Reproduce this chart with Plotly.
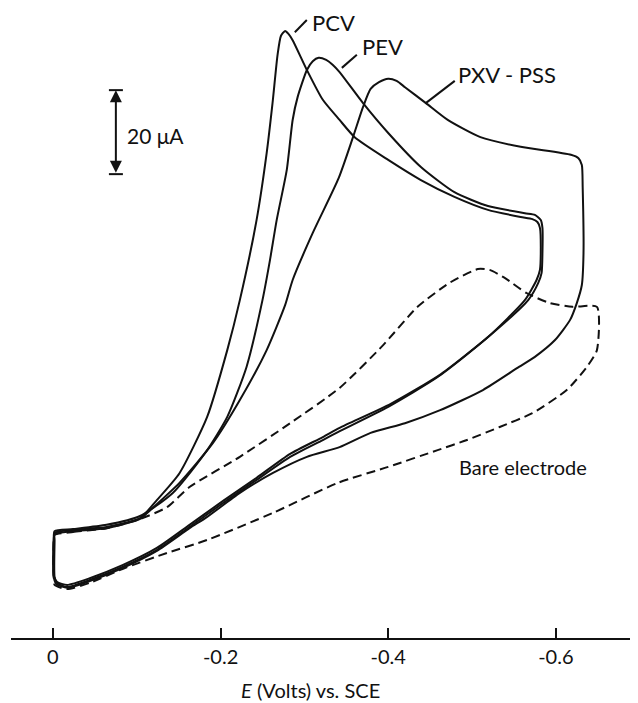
import plotly.graph_objects as go

# ---- data (E in volts vs. SCE, I in microamps, arbitrary zero) ----
pcv_E = [-0.002, -0.024, -0.064, -0.104, -0.124, -0.151, -0.184, -0.208, -0.223, -0.243,
         -0.255, -0.262, -0.268, -0.272, -0.277, -0.281, -0.286, -0.303, -0.322, -0.342,
         -0.360, -0.400, -0.439, -0.479, -0.519, -0.558, -0.572, -0.578, -0.581, -0.582,
         -0.581, -0.577, -0.563, -0.519, -0.459, -0.400, -0.340, -0.322, -0.283, -0.243,
         -0.203, -0.163, -0.124, -0.083, -0.044, -0.017, -0.005, -0.002, -0.002, -0.002]
pcv_I = [12.9, 13.6, 14.3, 16.4, 20.7, 27.1, 40.5, 56.4, 68.3, 87.4,
         103.3, 115.2, 126.7, 131.2, 132.4, 131.7, 130.2, 123.1, 116.0, 111.2,
         107.1, 101.7, 96.9, 92.9, 89.8, 88.1, 87.6, 86.9, 85.5, 79.5,
         75.5, 73.1, 68.3, 59.5, 50.0, 42.9, 36.9, 35.0, 31.0, 25.5,
         20.0, 14.3, 8.8, 4.8, 1.7, 0.0, 1.0, 2.4, 11.2, 12.9]

pev_E = [-0.002, -0.024, -0.064, -0.104, -0.143, -0.184, -0.208, -0.231, -0.250, -0.259,
         -0.267, -0.279, -0.286, -0.292, -0.303, -0.310, -0.317, -0.326, -0.334, -0.342,
         -0.370, -0.400, -0.439, -0.479, -0.519, -0.563, -0.575, -0.582, -0.584, -0.584,
         -0.583, -0.579, -0.567, -0.522, -0.463, -0.403, -0.342, -0.322, -0.283, -0.243,
         -0.203, -0.163, -0.124, -0.083, -0.044, -0.017, -0.005, -0.001, -0.001, -0.002]
pev_I = [13.3, 13.8, 14.8, 16.9, 22.4, 32.6, 40.5, 52.4, 68.3, 77.9,
         87.4, 99.3, 111.2, 116.7, 123.1, 125.2, 126.0, 125.5, 124.3, 122.6,
         115.2, 108.1, 100.0, 94.0, 90.7, 89.0, 88.6, 87.4, 85.5, 79.5,
         74.8, 72.4, 68.3, 60.0, 50.7, 43.6, 37.9, 35.7, 31.7, 26.0,
         20.5, 14.8, 9.3, 5.2, 2.1, 0.5, 1.2, 2.6, 11.2, 13.3]

pxv_E = [-0.002, -0.024, -0.064, -0.104, -0.116, -0.151, -0.191, -0.223, -0.255, -0.277,
         -0.286, -0.310, -0.341, -0.358, -0.370, -0.379, -0.389, -0.400, -0.410, -0.420,
         -0.445, -0.471, -0.510, -0.558, -0.618, -0.627, -0.631, -0.632, -0.633, -0.631,
         -0.625, -0.617, -0.599, -0.575, -0.556, -0.513, -0.462, -0.420, -0.379, -0.342,
         -0.303, -0.262, -0.223, -0.184, -0.163, -0.124, -0.083, -0.044, -0.017, -0.004,
         -0.001, -0.001, -0.002]
pxv_I = [12.6, 13.3, 14.0, 16.2, 18.3, 24.8, 34.3, 44.5, 56.4, 67.1,
         73.1, 84.3, 97.4, 107.1, 114.3, 118.6, 120.2, 121.0, 120.5, 119.0,
         115.2, 111.2, 107.1, 104.8, 102.9, 102.1, 100.5, 95.2, 79.5, 71.9,
         67.6, 63.6, 58.8, 54.8, 52.4, 46.9, 42.1, 39.0, 36.7, 33.3,
         31.0, 27.1, 22.4, 16.7, 14.0, 8.6, 4.5, 1.4, -0.2, 0.7,
         2.4, 11.2, 12.6]

bare_E = [-0.002, -0.024, -0.064, -0.104, -0.136, -0.163, -0.223, -0.283, -0.342, -0.394,
          -0.435, -0.473, -0.507, -0.521, -0.539, -0.565, -0.593, -0.620, -0.649, -0.649,
          -0.637, -0.613, -0.572, -0.533, -0.494, -0.459, -0.400, -0.340, -0.262, -0.184,
          -0.136, -0.083, -0.044, -0.017, -0.002, -0.001, -0.001, -0.002]
bare_I = [12.4, 13.1, 14.0, 16.2, 19.0, 23.8, 31.0, 39.0, 47.4, 57.6,
          66.7, 72.4, 75.7, 75.5, 73.6, 70.0, 67.6, 66.7, 66.7, 56.4,
          52.4, 46.9, 41.4, 38.1, 35.0, 32.6, 28.6, 24.8, 17.6, 11.2,
          8.1, 4.3, 1.0, -0.5, 0.5, 2.4, 11.2, 12.4]

tick_vals = [0, -0.2, -0.4, -0.6]
tick_text = ["0", "-0.2", "-0.4", "-0.6"]

curve_labels = ["PCV", "PEV", "PXV - PSS", "Bare electrode"]
scale_bar_uA = 20

FONT = "Lato, 'Open Sans', sans-serif"
INK = "#111111"

fig = go.Figure()
for E, I in [(pcv_E, pcv_I), (pev_E, pev_I), (pxv_E, pxv_I)]:
    fig.add_trace(go.Scatter(x=E, y=I, mode="lines",
                             line=dict(color=INK, width=2, shape="spline", smoothing=0.6),
                             hoverinfo="skip", showlegend=False))
fig.add_trace(go.Scatter(x=bare_E, y=bare_I, mode="lines",
                         line=dict(color=INK, width=2, dash="9px,5px", shape="spline", smoothing=0.6),
                         hoverinfo="skip", showlegend=False))

ann = []
# curve labels
ann.append(dict(x=-0.3065, y=134.3, text=curve_labels[0], xanchor="left", yanchor="middle",
                showarrow=False, font=dict(size=22, color=INK, family=FONT)))
ann.append(dict(x=-0.366, y=128.7, text=curve_labels[1], xanchor="left", yanchor="middle",
                showarrow=False, font=dict(size=22, color=INK, family=FONT)))
ann.append(dict(x=-0.4806, y=122.1, text=curve_labels[2], xanchor="left", yanchor="middle",
                showarrow=False, font=dict(size=22, color=INK, family=FONT)))
ann.append(dict(x=-0.4818, y=28.6, text=curve_labels[3], xanchor="left", yanchor="middle",
                showarrow=False, font=dict(size=20, color=INK, family=FONT)))
# scale bar label
ann.append(dict(x=-0.0859, y=107.4, text=f"{scale_bar_uA} μA", xanchor="left", yanchor="middle",
                showarrow=False, font=dict(size=21, color=INK, family=FONT)))
# scale bar arrow
sb_x, sb_top = -0.0751, 118.3
sb_bot = sb_top - scale_bar_uA
ann.append(dict(x=sb_x, y=sb_top, ax=sb_x, ay=sb_bot, axref="x", ayref="y", xref="x", yref="y",
                text="", showarrow=True, arrowhead=2, arrowsize=1.2, arrowwidth=2,
                arrowside="end+start", arrowcolor=INK, standoff=0, startstandoff=0))
# axis title
ann.append(dict(x=0.478, y=-0.083, xref="paper", yref="paper", xanchor="center", yanchor="middle",
                text="<i>E</i> (Volts) vs. SCE", showarrow=False,
                font=dict(size=20, color=INK, family=FONT)))

shapes = []
for x0, y0, x1, y1 in [(-0.2886, 132.1, -0.3029, 135.0),
                       (-0.3447, 123.6, -0.3626, 126.7),
                       (-0.4448, 115.2, -0.4794, 120.5)]:
    shapes.append(dict(type="line", x0=x0, y0=y0, x1=x1, y1=y1, xref="x", yref="y",
                       line=dict(color=INK, width=2)))
for yy in (sb_top, sb_bot):
    shapes.append(dict(type="line", x0=-0.0668, x1=-0.0835, y0=yy, y1=yy, xref="x", yref="y",
                       line=dict(color=INK, width=2)))

# page body has an 8px default margin, so the figure is sized to fit inside it
fig.update_layout(
    width=630, height=695,
    margin=dict(l=3, r=0, t=2, b=65),
    paper_bgcolor="white", plot_bgcolor="white",
    annotations=ann, shapes=shapes,
    font=dict(family=FONT, color=INK),
    xaxis=dict(range=[0.050, -0.698], showgrid=False, zeroline=False,
               showline=True, linecolor=INK, linewidth=2,
               ticks="inside", ticklen=10, tickwidth=2, tickcolor=INK,
               tickvals=tick_vals, ticktext=tick_text,
               tickfont=dict(size=20, color=INK, family=FONT)),
    yaxis=dict(range=[-12.14, 137.38], visible=False),
)

fig.write_html("out.html")
